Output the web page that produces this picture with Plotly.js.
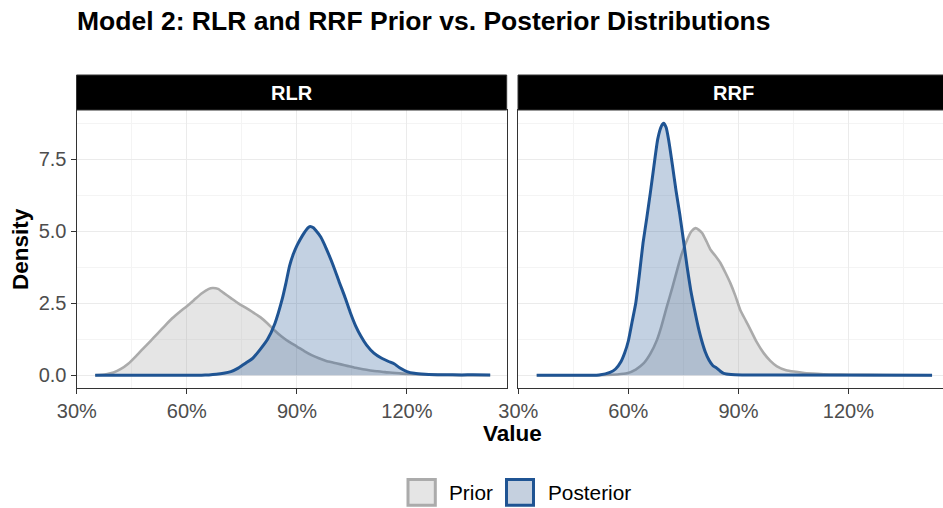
<!DOCTYPE html>
<html>
<head>
<meta charset="utf-8">
<script src="https://cdn.plot.ly/plotly-3.0.1.min.js"></script>
<style>
  html, body { margin: 0; padding: 0; overflow: hidden; background: #fff; }
  #chart { width: 950px; height: 508px; }
</style>
</head>
<body>
<div id="chart"></div>
<script>
// Density estimates (value in %, density)
const rlrPriorX = [35, 38, 40, 42, 44, 46, 48, 50, 52, 54, 56, 58, 60, 62, 64, 66, 67, 68.5, 70, 72, 74, 76, 78, 80, 82, 84, 86, 88, 90, 92, 94, 96, 98, 100, 102, 104, 106, 108, 110, 112, 114, 116, 118, 120, 124, 128, 134, 142.7];
const rlrPriorY = [0, 0.04, 0.1, 0.22, 0.4, 0.65, 0.92, 1.18, 1.45, 1.72, 1.98, 2.2, 2.4, 2.62, 2.84, 3.0, 3.03, 3.0, 2.86, 2.68, 2.5, 2.35, 2.19, 2.02, 1.8, 1.55, 1.33, 1.15, 1.0, 0.84, 0.7, 0.59, 0.5, 0.44, 0.38, 0.32, 0.26, 0.21, 0.17, 0.14, 0.11, 0.09, 0.07, 0.05, 0.03, 0.015, 0.006, 0];

const rlrPostX = [35, 60, 64, 66, 68, 70, 72, 74, 76, 78, 80, 82, 84, 86, 87, 88, 89, 90, 91.5, 93, 93.6, 94.5, 95, 96.5, 98, 100, 101.5, 103, 104.5, 106, 107.5, 109, 111, 113, 115, 116.5, 118, 120, 122, 125, 130, 135, 138, 142.7];
const rlrPostY = [0, 0, 0.005, 0.015, 0.035, 0.07, 0.13, 0.25, 0.42, 0.6, 0.9, 1.25, 1.8, 2.65, 3.2, 3.8, 4.2, 4.5, 4.85, 5.12, 5.17, 5.12, 5.05, 4.8, 4.4, 3.78, 3.25, 2.75, 2.2, 1.72, 1.35, 1.05, 0.77, 0.6, 0.48, 0.4, 0.26, 0.13, 0.07, 0.04, 0.02, 0.015, 0.02, 0.01];

const rrfPriorX = [35, 50, 54, 57, 59.6, 62, 64.2, 66, 67.8, 69, 70.5, 72, 73.3, 74.5, 76, 77.2, 78.3, 79.2, 80.1, 81.3, 82.4, 83.7, 85.1, 86.5, 87.8, 89.2, 90.5, 92, 93.3, 95, 96.9, 98.7, 100.5, 103, 105.1, 108, 111.5, 115, 120.5, 130, 142.8];
const rrfPriorY = [0, 0, 0.01, 0.03, 0.07, 0.2, 0.42, 0.75, 1.23, 1.7, 2.39, 3.05, 3.66, 4.2, 4.7, 5.0, 5.11, 5.05, 4.94, 4.65, 4.36, 4.15, 3.9, 3.55, 3.2, 2.75, 2.27, 1.9, 1.58, 1.15, 0.77, 0.5, 0.31, 0.18, 0.13, 0.08, 0.05, 0.03, 0.02, 0.01, 0];

const rrfPostX = [35, 50, 52, 55, 56.5, 58, 59, 60, 61, 62, 63, 64, 65, 66, 67, 68, 69, 69.6, 70.3, 71, 72, 73, 74, 75, 76, 77, 78, 79, 80, 81, 82, 83, 84, 85, 86, 88, 91, 100, 142.8];
const rrfPostY = [0, 0, 0.01, 0.1, 0.22, 0.48, 0.78, 1.2, 1.85, 2.5, 3.5, 4.6, 5.45, 6.35, 7.3, 8.2, 8.65, 8.75, 8.6, 8.15, 7.3, 6.4, 5.6, 4.7, 3.78, 2.95, 2.3, 1.7, 1.2, 0.8, 0.52, 0.34, 0.26, 0.15, 0.07, 0.03, 0.015, 0.01, 0];

const panelNames = ["RLR", "RRF"];
const seriesNames = ["Prior", "Posterior"];
const xTickVals = [30, 60, 90, 120];
const xTickText = ["30%", "60%", "90%", "120%"];
const xMinorVals = [45, 75, 105, 135];
const yTickVals = [0, 2.5, 5, 7.5];
const yTickText = ["0.0", "2.5", "5.0", "7.5"];
const yMinorVals = [1.25, 3.75, 6.25, 8.75];

const W = 950, H = 508;
const fx = px => px / W;
const fy = py => 1 - py / H;

const FONT = "Liberation Sans, Arial, Helvetica, sans-serif";
const priorLine = "#ababab";
const priorFill = "rgba(150,150,150,0.25)";
const postLine = "#1f5493";
const postFill = "rgba(32,84,147,0.27)";

function densityTrace(x, y, name, axisX, axisY, line, fill) {
  return {
    type: "scatter", mode: "lines", name: name,
    x: x, y: y, xaxis: axisX, yaxis: axisY,
    fill: "tozeroy", fillcolor: fill,
    line: { color: line, width: name === "Prior" ? 2.6 : 3, shape: "spline", smoothing: 0.5 },
    hoverinfo: "skip", showlegend: false
  };
}

const data = [
  densityTrace(rlrPriorX, rlrPriorY, seriesNames[0], "x", "y", priorLine, priorFill),
  densityTrace(rlrPostX, rlrPostY, seriesNames[1], "x", "y", postLine, postFill),
  densityTrace(rrfPriorX, rrfPriorY, seriesNames[0], "x2", "y2", priorLine, priorFill),
  densityTrace(rrfPostX, rrfPostY, seriesNames[1], "x2", "y2", postLine, postFill)
];

const panelL = [76.5, 518];
const panelR = [506.7, 948.2];
const panelTop = 110, panelBottom = 388, stripTop = 75;

function xAxis(i) {
  return {
    domain: [fx(panelL[i]), fx(panelR[i])],
    range: [29.9, 147.2],
    tickmode: "array", tickvals: xTickVals, ticktext: xTickText,
    ticks: "outside", ticklen: 5, tickwidth: 1, tickcolor: "#333333",
    tickfont: { family: FONT, size: 20, color: "#4d4d4d" },
    showgrid: true, gridcolor: "#ebebeb", gridwidth: 1,
    minor: { tickmode: "array", tickvals: xMinorVals, showgrid: true, gridcolor: "#f4f4f4", gridwidth: 1, ticks: "" },
    showline: true, linecolor: "#333333", linewidth: 1, mirror: true,
    zeroline: false, fixedrange: true,
    anchor: i === 0 ? "y" : "y2"
  };
}
function yAxis(i) {
  return {
    domain: [fy(panelBottom), fy(panelTop)],
    range: [-0.44, 9.21],
    tickmode: "array", tickvals: yTickVals, ticktext: yTickText,
    showticklabels: i === 0,
    ticks: i === 0 ? "outside" : "", ticklen: 5, tickwidth: 1, tickcolor: "#333333",
    tickfont: { family: FONT, size: 20, color: "#4d4d4d" },
    showgrid: true, gridcolor: "#ebebeb", gridwidth: 1,
    minor: { tickmode: "array", tickvals: yMinorVals, showgrid: true, gridcolor: "#f4f4f4", gridwidth: 1, ticks: "" },
    showline: true, linecolor: "#333333", linewidth: 1, mirror: true,
    zeroline: false, fixedrange: true,
    anchor: i === 0 ? "x" : "x2"
  };
}

const shapes = [];
const annotations = [];

// facet strips
for (let i = 0; i < 2; i++) {
  shapes.push({
    type: "rect", xref: "paper", yref: "paper",
    x0: fx(panelL[i]), x1: fx(panelR[i]), y0: fy(panelTop), y1: fy(stripTop),
    fillcolor: "#000000", line: { color: "#333333", width: 1 }, layer: "above"
  });
  annotations.push({
    text: "<b>" + panelNames[i] + "</b>", xref: "paper", yref: "paper",
    x: fx((panelL[i] + panelR[i]) / 2), y: fy((stripTop + panelTop) / 2),
    xanchor: "center", yanchor: "middle", showarrow: false,
    font: { family: FONT, size: 20, color: "#ffffff" }
  });
}

// axis titles
annotations.push({
  text: "<b>Value</b>", xref: "paper", yref: "paper",
  x: fx(512.5), y: fy(433), xanchor: "center", yanchor: "middle", showarrow: false,
  font: { family: FONT, size: 22.5, color: "#000000" }
});
annotations.push({
  text: "<b>Density</b>", xref: "paper", yref: "paper",
  x: fx(20), y: fy(249), xanchor: "center", yanchor: "middle", showarrow: false, textangle: -90,
  font: { family: FONT, size: 22.5, color: "#000000" }
});

// legend keys and labels
const keys = [
  { x0: 408, x1: 435.3, fill: "#e5e5e5", line: priorLine, label: seriesNames[0], tx: 447 },
  { x0: 506.5, x1: 533.5, fill: "#c5d0df", line: postLine, label: seriesNames[1], tx: 546 }
];
keys.forEach(k => {
  shapes.push({
    type: "rect", xref: "paper", yref: "paper",
    x0: fx(k.x0), x1: fx(k.x1), y0: fy(505.3), y1: fy(479.6),
    fillcolor: k.fill, line: { color: k.line, width: 3 }
  });
  annotations.push({
    text: k.label, xref: "paper", yref: "paper",
    x: fx(k.tx), y: fy(492.5), xanchor: "left", yanchor: "middle", showarrow: false,
    font: { family: FONT, size: 20.8, color: "#000000" }
  });
});

const layout = {
  width: W, height: H,
  margin: { l: 0, r: 0, t: 0, b: 0 },
  paper_bgcolor: "#ffffff", plot_bgcolor: "#ffffff",
  title: {
    text: "<b>Model 2: RLR and RRF Prior vs. Posterior Distributions</b>",
    x: fx(77), xanchor: "left", xref: "paper",
    y: fy(21), yanchor: "middle", yref: "paper",
    font: { family: FONT, size: 26.5, color: "#000000" }
  },
  xaxis: xAxis(0), xaxis2: xAxis(1),
  yaxis: yAxis(0), yaxis2: yAxis(1),
  shapes: shapes, annotations: annotations,
  showlegend: false
};

Plotly.newPlot("chart", data, layout, { displayModeBar: false, staticPlot: true });
</script>
</body>
</html>
